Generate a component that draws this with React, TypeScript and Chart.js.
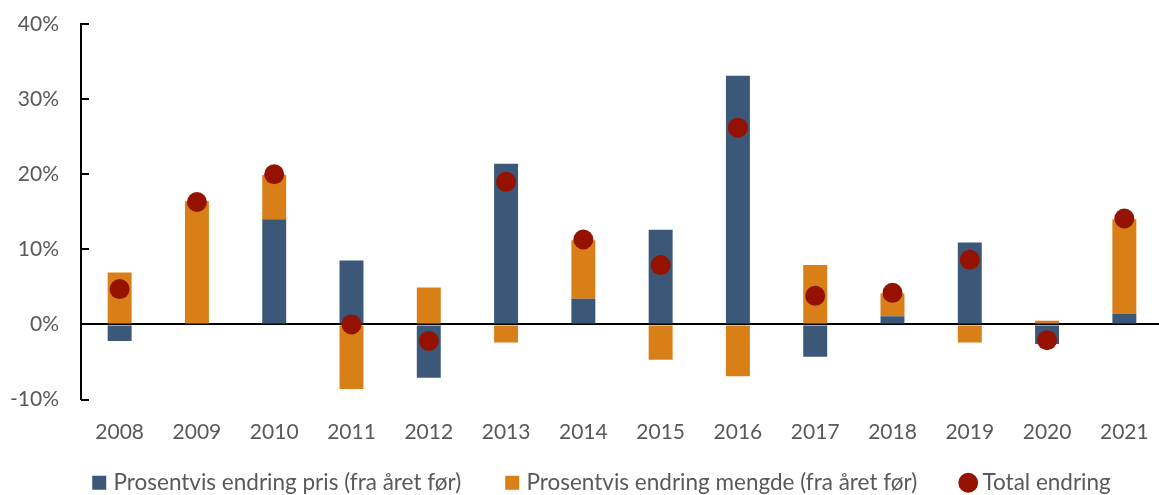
import React, { useEffect, useRef } from "react";
import { Chart, registerables } from "chart.js";

Chart.register(...registerables);

const years = ["2008", "2009", "2010", "2011", "2012", "2013", "2014", "2015", "2016", "2017", "2018", "2019", "2020", "2021"];
const priceChange = [-2.2, 0, 14.0, 8.5, -7.1, 21.4, 3.4, 12.6, 33.1, -4.3, 1.1, 10.9, -2.6, 1.4];
const quantityChange = [6.9, 16.4, 5.9, -8.6, 4.9, -2.4, 7.8, -4.7, -6.9, 7.9, 3.0, -2.4, 0.5, 12.6];
const totalChange = [4.7, 16.3, 20.0, 0.0, -2.2, 19.0, 11.3, 7.9, 26.2, 3.8, 4.2, 8.6, -2.1, 14.1];

const seriesNames = [
  "Prosentvis endring pris (fra året før)",
  "Prosentvis endring mengde (fra året før)",
  "Total endring",
];

const BLUE = "#3B5878";
const ORANGE = "#D87F17";
const RED = "#961200";
const TEXT = "#595959";
const FONT = "Lato, 'Open Sans', sans-serif";

const innerTicks = {
  id: "innerTicks",
  afterDatasetsDraw(chart: any) {
    const y = chart.scales.y;
    const ctx = chart.ctx;
    ctx.save();
    ctx.strokeStyle = "#000";
    ctx.lineWidth = 2;
    y.ticks.forEach((t: any) => {
      const py = Math.round(y.getPixelForValue(t.value));
      ctx.beginPath();
      ctx.moveTo(y.right, py);
      ctx.lineTo(y.right + 8, py);
      ctx.stroke();
    });
    ctx.restore();
  },
};

const legendShift = {
  id: "legendShift",
  afterLayout(chart: any) {
    const lg = chart.legend;
    if (lg) {
      lg.left += 17;
      lg.right += 17;
    }
  },
};

export default function App() {
  const ref = useRef<HTMLCanvasElement>(null);
  useEffect(() => {
    if (!ref.current) return;
    const chart = new Chart(ref.current, {
      type: "bar",
      data: {
        labels: years,
        datasets: [
          {
            type: "bar",
            label: seriesNames[0],
            data: priceChange,
            backgroundColor: BLUE,
            borderWidth: 0,
            order: 2,
          },
          {
            type: "bar",
            label: seriesNames[1],
            data: quantityChange,
            backgroundColor: ORANGE,
            borderWidth: 0,
            order: 2,
          },
          {
            type: "line",
            label: seriesNames[2],
            data: totalChange,
            showLine: false,
            pointRadius: 10,
            pointHoverRadius: 10,
            pointBackgroundColor: RED,
            pointBorderWidth: 0,
            backgroundColor: RED,
            borderColor: RED,
            stack: "total",
            order: 1,
          } as any,
        ],
      },
      options: {
        responsive: false,
        animation: false,
        events: [],
        layout: { padding: { top: 24, left: 0, right: 0, bottom: 0 } },
        datasets: {
          bar: { categoryPercentage: 1, barPercentage: 0.31 },
        },
        scales: {
          x: {
            stacked: true,
            grid: { display: false, drawTicks: false },
            border: { display: false },
            ticks: { color: TEXT, font: { family: FONT, size: 21 }, padding: -45, mirror: true },
            afterFit: (s: any) => {
              s.height = 24;
            },
          },
          y: {
            stacked: true,
            min: -10,
            max: 40,
            ticks: {
              stepSize: 10,
              color: TEXT,
              font: { family: FONT, size: 21 },
              padding: 22,
              callback: (v: any) => v + "%",
            },
            grid: {
              drawTicks: false,
              color: (c: any) => (c.tick && c.tick.value === 0 ? "#000" : "rgba(0,0,0,0)"),
              lineWidth: (c: any) => (c.tick && c.tick.value === 0 ? 2 : 0),
            },
            border: { display: true, color: "#000", width: 2 },
            afterFit: (s: any) => {
              s.width = 81;
              s.paddingTop = 12;
              s.paddingBottom = 12;
            },
          },
        },
        plugins: {
          tooltip: { enabled: false },
          legend: {
            position: "bottom",
            labels: {
              usePointStyle: true,
              boxHeight: 14,
              boxWidth: 6,
              padding: 48,
              color: TEXT,
              font: { family: FONT, size: 22.5 },
              sort: (a: any, b: any) => a.datasetIndex - b.datasetIndex,
              generateLabels: (ch: any) => {
                const items = Chart.defaults.plugins.legend.labels.generateLabels(ch);
                return items.map((it: any) => ({
                  ...it,
                  pointStyle: it.datasetIndex === 2 ? "circle" : "rect",
                  lineWidth: 0,
                  strokeStyle: "rgba(0,0,0,0)",
                }));
              },
            },
          },
        },
      },
      plugins: [innerTicks, legendShift],
    });
    return () => chart.destroy();
  }, []);

  return (
    <div style={{ position: "fixed", left: 0, top: 0, width: 1159, height: 495, overflow: "hidden", background: "#fff" }}>
      <canvas ref={ref} width={1173} height={504} style={{ display: "block" }} />
    </div>
  );
}
